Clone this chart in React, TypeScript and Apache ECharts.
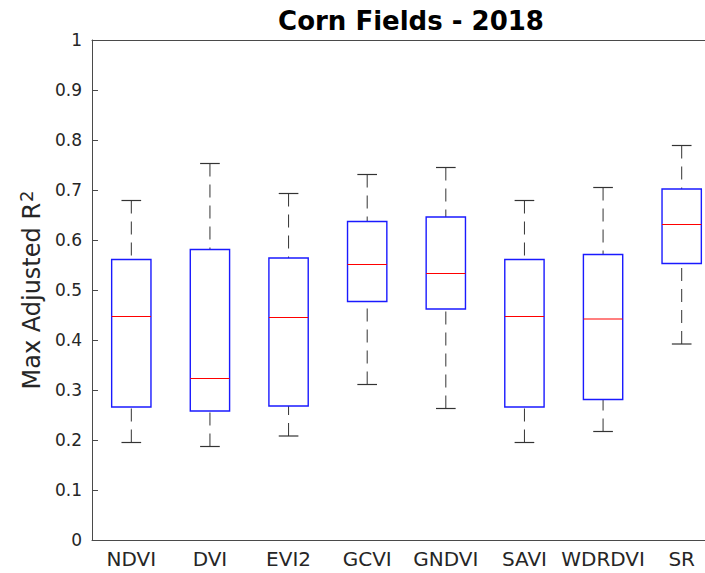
import React, { useEffect, useRef } from "react";
import * as echarts from "echarts";

// Vegetation indices compared for corn fields, 2018
const categories = ["NDVI", "DVI", "EVI2", "GCVI", "GNDVI", "SAVI", "WDRDVI", "SR"];
const lowerWhisker = [0.195, 0.187, 0.208, 0.311, 0.263, 0.195, 0.217, 0.392];
const lowerQuartile = [0.266, 0.258, 0.268, 0.477, 0.462, 0.266, 0.281, 0.553];
const medians = [0.447, 0.323, 0.445, 0.551, 0.533, 0.447, 0.442, 0.631];
const upperQuartile = [0.561, 0.581, 0.564, 0.637, 0.646, 0.561, 0.571, 0.702];
const upperWhisker = [0.679, 0.753, 0.693, 0.731, 0.745, 0.679, 0.705, 0.789];
const yTicks = [0, 0.1, 0.2, 0.3, 0.4, 0.5, 0.6, 0.7, 0.8, 0.9, 1];

const FONT = "DejaVu Sans";
const AXIS_COLOR = "#4a4a4a";
const TEXT_COLOR = "#262626";

export default function App() {
  const ref = useRef<HTMLDivElement>(null);

  useEffect(() => {
    if (!ref.current) return;
    const chart = echarts.init(ref.current, undefined, { renderer: "svg" });

    const boxData = categories.map((_, i) => [
      i,
      lowerWhisker[i],
      lowerQuartile[i],
      medians[i],
      upperQuartile[i],
      upperWhisker[i],
    ]);

    const whiskerStyle = { stroke: "#333333", lineWidth: 1, lineDash: [13, 8] };
    const capStyle = { stroke: "#333333", lineWidth: 1.2 };

    // Box, median line, dashed whiskers and end caps for one category
    const renderItem = (_params: any, api: any) => {
      const idx = api.value(0);
      const lo = api.coord([idx, api.value(1)]);
      const q1 = api.coord([idx, api.value(2)]);
      const med = api.coord([idx, api.value(3)]);
      const q3 = api.coord([idx, api.value(4)]);
      const hi = api.coord([idx, api.value(5)]);
      const band = api.size([1, 0])[0];
      const bw = band * 0.5;
      const cw = band * 0.25;
      const x = lo[0];
      return {
        type: "group",
        children: [
          { type: "line", shape: { x1: x, y1: hi[1], x2: x, y2: q3[1] }, style: whiskerStyle },
          { type: "line", shape: { x1: x, y1: lo[1], x2: x, y2: q1[1] }, style: whiskerStyle },
          { type: "line", shape: { x1: x - cw / 2, y1: hi[1], x2: x + cw / 2, y2: hi[1] }, style: capStyle },
          { type: "line", shape: { x1: x - cw / 2, y1: lo[1], x2: x + cw / 2, y2: lo[1] }, style: capStyle },
          {
            type: "rect",
            shape: { x: x - bw / 2, y: q3[1], width: bw, height: q1[1] - q3[1] },
            style: { fill: "none", stroke: "#1a1aff", lineWidth: 1.4 },
          },
          {
            type: "line",
            shape: { x1: x - bw / 2, y1: med[1], x2: x + bw / 2, y2: med[1] },
            style: { stroke: "#ff0000", lineWidth: 1.2 },
          },
        ],
      };
    };

    chart.setOption({
      animation: false,
      backgroundColor: "#ffffff",
      title: {
        text: "Corn Fields - 2018",
        left: 406,
        top: 3,
        textAlign: "center",
        textStyle: { fontFamily: FONT, fontSize: 26, fontWeight: "bold", color: "#000000" },
      },
      grid: {
        left: 92,
        top: 40,
        width: 629,
        height: 500,
        containLabel: false,
        outerBoundsMode: "none",
      },
      xAxis: [
        {
          type: "category",
          data: categories,
          position: "bottom",
          axisLine: { lineStyle: { color: AXIS_COLOR, width: 1 } },
          axisTick: { inside: true, length: 6, alignWithLabel: true, lineStyle: { color: AXIS_COLOR } },
          axisLabel: { fontFamily: FONT, fontSize: 20, color: TEXT_COLOR, margin: 9, interval: 0 },
          splitLine: { show: false },
        },
        {
          type: "category",
          data: categories,
          position: "top",
          axisLine: { lineStyle: { color: AXIS_COLOR, width: 1 } },
          axisTick: { inside: true, length: 6, alignWithLabel: true, lineStyle: { color: AXIS_COLOR } },
          axisLabel: { show: false },
          splitLine: { show: false },
        },
      ],
      yAxis: {
        type: "value",
        min: yTicks[0],
        max: yTicks[yTicks.length - 1],
        interval: 0.1,
        axisLine: { show: true, lineStyle: { color: AXIS_COLOR, width: 1 } },
        axisTick: { show: true, inside: true, length: 6, lineStyle: { color: AXIS_COLOR } },
        axisLabel: {
          fontFamily: FONT,
          fontSize: 17,
          color: TEXT_COLOR,
          margin: 10,
          formatter: (v: number) => String(Number(v.toFixed(1))),
        },
        splitLine: { show: false },
        name: "Max Adjusted R{sup|2}",
        nameLocation: "middle",
        nameGap: 42,
        nameTextStyle: {
          fontFamily: FONT,
          fontSize: 24,
          color: TEXT_COLOR,
          rich: {
            sup: { fontFamily: FONT, fontSize: 18, color: TEXT_COLOR, verticalAlign: "top", padding: [0, 0, 12, 1] },
          },
        },
      },
      series: [
        {
          type: "custom",
          renderItem,
          data: boxData,
          encode: { x: 0, y: [1, 2, 3, 4, 5] },
          clip: false,
        },
      ],
    });

    return () => chart.dispose();
  }, []);

  return (
    <div
      ref={ref}
      style={{ position: "fixed", left: 0, top: 0, width: 705, height: 573, background: "#fff", overflow: "hidden" }}
    />
  );
}
